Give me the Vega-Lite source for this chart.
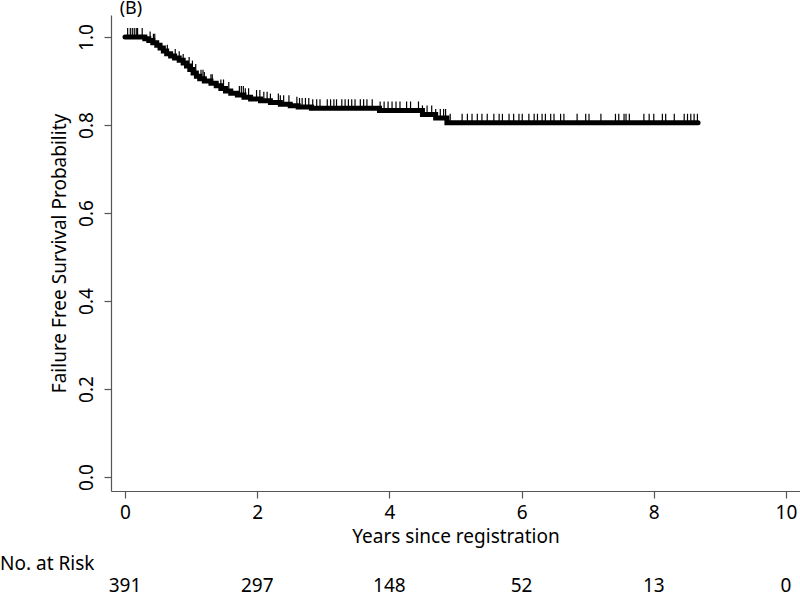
{
  "$schema": "https://vega.github.io/schema/vega-lite/v6.json",
  "width": 689,
  "height": 476,
  "autosize": "none",
  "padding": {"left": 111, "top": 15, "right": 0, "bottom": 105},
  "background": "white",
  "config": {
    "view": {"stroke": null},
    "font": "Noto Sans",
    "axis": {"grid": false, "domainColor": "#555555", "tickColor": "#555555", "domainWidth": 1.2, "tickWidth": 1.2, "tickSize": 7, "labelColor": "black", "titleColor": "black", "labelFontSize": 19, "titleFontSize": 19, "titleFontWeight": "normal", "labelFont": "Noto Sans", "titleFont": "Noto Sans"}
  },
  "datasets": {
    "km": [
      {"t": 0, "s": 1.0}, {"t": 0.3, "s": 0.996}, {"t": 0.36, "s": 0.992}, {"t": 0.42, "s": 0.987},
      {"t": 0.48, "s": 0.981}, {"t": 0.53, "s": 0.975}, {"t": 0.58, "s": 0.968}, {"t": 0.63, "s": 0.962},
      {"t": 0.69, "s": 0.957}, {"t": 0.75, "s": 0.952}, {"t": 0.82, "s": 0.947}, {"t": 0.88, "s": 0.941},
      {"t": 0.93, "s": 0.934}, {"t": 0.98, "s": 0.926}, {"t": 1.03, "s": 0.918}, {"t": 1.08, "s": 0.911},
      {"t": 1.13, "s": 0.905}, {"t": 1.2, "s": 0.9}, {"t": 1.3, "s": 0.895}, {"t": 1.38, "s": 0.889},
      {"t": 1.45, "s": 0.883}, {"t": 1.52, "s": 0.877}, {"t": 1.6, "s": 0.872}, {"t": 1.7, "s": 0.868},
      {"t": 1.8, "s": 0.863}, {"t": 1.9, "s": 0.859}, {"t": 2.05, "s": 0.855}, {"t": 2.2, "s": 0.851},
      {"t": 2.35, "s": 0.847}, {"t": 2.5, "s": 0.844}, {"t": 2.62, "s": 0.841}, {"t": 2.82, "s": 0.838},
      {"t": 3.85, "s": 0.833}, {"t": 4.5, "s": 0.824}, {"t": 4.7, "s": 0.816}, {"t": 4.87, "s": 0.805},
      {"t": 8.67, "s": 0.805}
    ],
    "censor": [
      {"t": 0.04, "s": 1.0}, {"t": 0.08, "s": 1.0}, {"t": 0.11, "s": 1.0}, {"t": 0.14, "s": 1.0}, {"t": 0.17, "s": 1.0}, {"t": 0.19, "s": 1.0}, {"t": 0.26, "s": 1.0},
      {"t": 0.38, "s": 0.992}, {"t": 0.43, "s": 0.987}, {"t": 0.45, "s": 0.987},
      {"t": 0.64, "s": 0.962}, {"t": 0.76, "s": 0.952}, {"t": 0.82, "s": 0.947}, {"t": 0.88, "s": 0.941},
      {"t": 0.97, "s": 0.934}, {"t": 1.02, "s": 0.926}, {"t": 1.07, "s": 0.918}, {"t": 1.15, "s": 0.905},
      {"t": 1.18, "s": 0.905}, {"t": 1.2, "s": 0.9}, {"t": 1.3, "s": 0.895}, {"t": 1.32, "s": 0.895},
      {"t": 1.45, "s": 0.883}, {"t": 1.49, "s": 0.883}, {"t": 1.57, "s": 0.877}, {"t": 1.73, "s": 0.868},
      {"t": 1.76, "s": 0.868}, {"t": 1.79, "s": 0.868}, {"t": 1.82, "s": 0.863}, {"t": 1.87, "s": 0.863},
      {"t": 1.99, "s": 0.859}, {"t": 2.04, "s": 0.859}, {"t": 2.1, "s": 0.855}, {"t": 2.15, "s": 0.855},
      {"t": 2.2, "s": 0.851}, {"t": 2.32, "s": 0.851}, {"t": 2.35, "s": 0.847}, {"t": 2.4, "s": 0.847},
      {"t": 2.48, "s": 0.847}, {"t": 2.6, "s": 0.844}, {"t": 2.64, "s": 0.841}, {"t": 2.68, "s": 0.841},
      {"t": 2.73, "s": 0.841}, {"t": 2.78, "s": 0.841}, {"t": 2.84, "s": 0.838}, {"t": 2.9, "s": 0.838},
      {"t": 2.95, "s": 0.838}, {"t": 3.06, "s": 0.838}, {"t": 3.11, "s": 0.838}, {"t": 3.16, "s": 0.838},
      {"t": 3.2, "s": 0.838}, {"t": 3.28, "s": 0.838}, {"t": 3.33, "s": 0.838}, {"t": 3.38, "s": 0.838},
      {"t": 3.43, "s": 0.838}, {"t": 3.48, "s": 0.838}, {"t": 3.56, "s": 0.838}, {"t": 3.61, "s": 0.838},
      {"t": 3.66, "s": 0.838}, {"t": 3.74, "s": 0.838}, {"t": 3.86, "s": 0.833}, {"t": 3.92, "s": 0.833},
      {"t": 3.98, "s": 0.833}, {"t": 4.04, "s": 0.833}, {"t": 4.1, "s": 0.833}, {"t": 4.16, "s": 0.833},
      {"t": 4.26, "s": 0.833}, {"t": 4.32, "s": 0.833}, {"t": 4.44, "s": 0.833}, {"t": 4.5, "s": 0.824},
      {"t": 4.57, "s": 0.824}, {"t": 4.64, "s": 0.824}, {"t": 4.7, "s": 0.816}, {"t": 4.77, "s": 0.816},
      {"t": 4.82, "s": 0.816}, {"t": 4.85, "s": 0.816}, {"t": 4.92, "s": 0.805}, {"t": 5.1, "s": 0.805},
      {"t": 5.18, "s": 0.805}, {"t": 5.25, "s": 0.805}, {"t": 5.33, "s": 0.805}, {"t": 5.4, "s": 0.805},
      {"t": 5.48, "s": 0.805}, {"t": 5.58, "s": 0.805}, {"t": 5.66, "s": 0.805}, {"t": 5.71, "s": 0.805},
      {"t": 5.81, "s": 0.805}, {"t": 5.88, "s": 0.805}, {"t": 5.96, "s": 0.805}, {"t": 6.01, "s": 0.805},
      {"t": 6.11, "s": 0.805}, {"t": 6.19, "s": 0.805}, {"t": 6.24, "s": 0.805}, {"t": 6.31, "s": 0.805},
      {"t": 6.36, "s": 0.805}, {"t": 6.44, "s": 0.805}, {"t": 6.49, "s": 0.805}, {"t": 6.59, "s": 0.805},
      {"t": 6.64, "s": 0.805}, {"t": 6.84, "s": 0.805}, {"t": 6.97, "s": 0.805}, {"t": 7.02, "s": 0.805},
      {"t": 7.2, "s": 0.805}, {"t": 7.42, "s": 0.805}, {"t": 7.47, "s": 0.805}, {"t": 7.55, "s": 0.805},
      {"t": 7.58, "s": 0.805}, {"t": 7.63, "s": 0.805}, {"t": 7.85, "s": 0.805}, {"t": 7.93, "s": 0.805},
      {"t": 8.0, "s": 0.805}, {"t": 8.13, "s": 0.805}, {"t": 8.18, "s": 0.805}, {"t": 8.31, "s": 0.805},
      {"t": 8.46, "s": 0.805}, {"t": 8.51, "s": 0.805}, {"t": 8.56, "s": 0.805}, {"t": 8.61, "s": 0.805},
      {"t": 8.66, "s": 0.805}
    ],
    "risk": [
      {"t": 0, "n": 391}, {"t": 2, "n": 297}, {"t": 4, "n": 148}, {"t": 6, "n": 52}, {"t": 8, "n": 13}, {"t": 10, "n": 0}
    ],
    "labels": [
      {"label": "No. at Risk", "kind": "risk"},
      {"label": "(B)", "kind": "panel"}
    ]
  },
  "layer": [
    {
      "data": {"name": "km"},
      "mark": {"type": "line", "interpolate": "step-after", "color": "black", "strokeWidth": 5, "strokeCap": "round"},
      "encoding": {
        "x": {"field": "t", "type": "quantitative", "scale": {"domain": [-0.212, 10.212], "nice": false, "zero": false},
          "axis": {"values": [0, 2, 4, 6, 8, 10], "format": "d", "title": "Years since registration", "labelPadding": 5, "titlePadding": 5}},
        "y": {"field": "s", "type": "quantitative", "scale": {"domain": [-0.0318, 1.05], "nice": false, "zero": false},
          "axis": {"values": [0, 0.2, 0.4, 0.6, 0.8, 1.0], "format": ".1f", "title": "Failure Free Survival Probability", "labelAngle": -90, "labelAlign": "center", "labelBaseline": "alphabetic", "labelPadding": 12, "titlePadding": 8}}
      }
    },
    {
      "data": {"name": "censor"},
      "mark": {"type": "tick", "orient": "vertical", "color": "black", "size": 9, "thickness": 1.2, "yOffset": -4.5, "opacity": 1},
      "encoding": {
        "x": {"field": "t", "type": "quantitative"},
        "y": {"field": "s", "type": "quantitative"}
      }
    },
    {
      "data": {"name": "risk"},
      "mark": {"type": "text", "fontSize": 19, "font": "Noto Sans", "color": "black", "align": "center", "baseline": "alphabetic"},
      "encoding": {
        "x": {"field": "t", "type": "quantitative"},
        "y": {"datum": -0.262, "type": "quantitative"},
        "text": {"field": "n", "type": "quantitative"}
      }
    },
    {
      "data": {"name": "labels"},
      "transform": [{"filter": "datum.kind === 'risk'"}],
      "mark": {"type": "text", "fontSize": 19, "font": "Noto Sans", "color": "black", "align": "left", "baseline": "alphabetic"},
      "encoding": {
        "x": {"datum": -1.891, "type": "quantitative"},
        "y": {"datum": -0.2105, "type": "quantitative"},
        "text": {"field": "label"}
      }
    },
    {
      "data": {"name": "labels"},
      "transform": [{"filter": "datum.kind === 'panel'"}],
      "mark": {"type": "text", "fontSize": 18, "font": "Noto Sans", "color": "black", "align": "left", "baseline": "alphabetic"},
      "encoding": {
        "x": {"datum": -0.08, "type": "quantitative"},
        "y": {"datum": 1.0523, "type": "quantitative"},
        "text": {"field": "label"}
      }
    }
  ]
}
